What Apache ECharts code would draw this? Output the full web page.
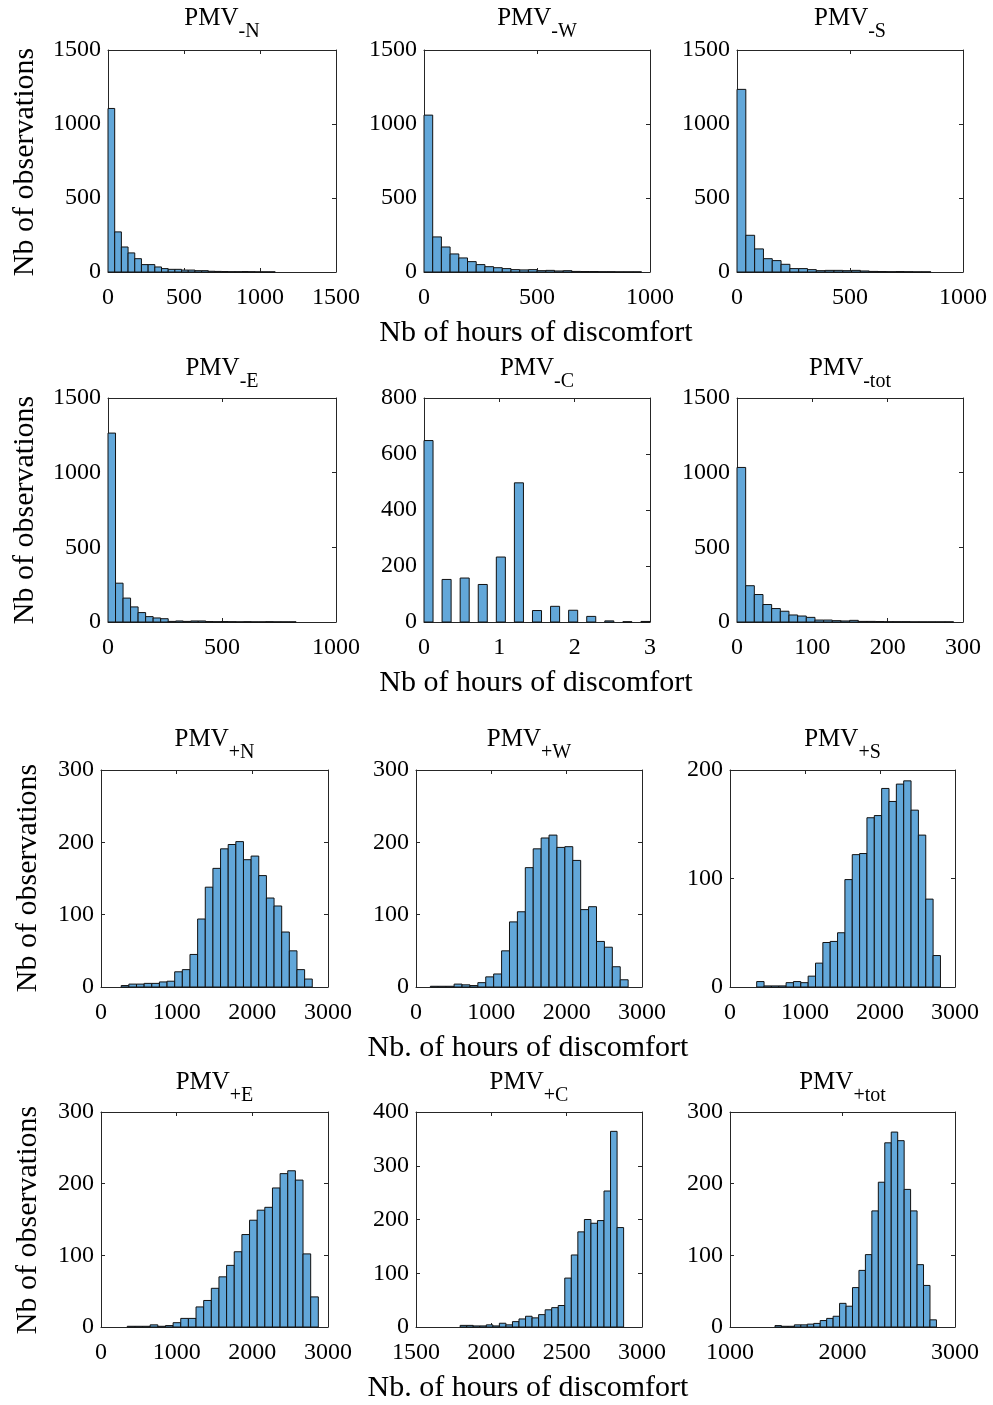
<!DOCTYPE html>
<html>
<head>
<meta charset="utf-8">
<script src="https://cdn.jsdelivr.net/npm/echarts@6/dist/echarts.min.js"></script>
<style>
html,body{margin:0;padding:0;background:#fff;}
#chart{width:993px;height:1405px;}
</style>
</head>
<body>
<div id="chart"></div>
<script>
// ---------- DATA ----------
const panelSubs = ['-N', '-W', '-S', '-E', '-C', '-tot', '+N', '+W', '+S', '+E', '+C', '+tot'];

const countsNegN = [1105, 271, 169, 129, 90, 50, 50, 34, 23, 18, 18, 13, 13, 9, 9, 5, 4, 3, 2, 2, 3, 2, 1, 1, 1];
const countsNegW = [1060, 237, 169, 122, 95, 70, 50, 36, 29, 23, 16, 14, 16, 9, 11, 7, 9, 4, 3, 3, 2, 2, 1, 1, 1];
const countsNegS = [1234, 248, 156, 90, 77, 52, 23, 23, 16, 9, 11, 11, 9, 11, 7, 4, 3, 2, 3, 2, 1, 1];
const countsNegE = [1265, 260, 160, 101, 63, 36, 27, 22, 4, 7, 4, 7, 7, 3, 2, 3, 2, 1, 2, 1, 1, 2, 1, 1, 1];
const countsNegC = [648, 0, 152, 0, 157, 0, 134, 0, 232, 0, 497, 0, 41, 0, 56, 0, 42, 0, 20, 0, 4, 0, 1, 0, 2];
const countsNegTot = [1035, 243, 184, 117, 90, 72, 47, 40, 31, 13, 13, 9, 7, 11, 4, 4, 3, 2, 2, 2, 1, 1, 1, 1, 1];
const countsPosN = [2, 4, 4, 5, 5, 7, 8, 21, 24, 45, 94, 138, 164, 191, 197, 201, 176, 181, 154, 123, 112, 76, 50, 24, 11];
const countsPosW = [1, 1, 1, 4, 3, 2, 6, 14, 18, 50, 90, 104, 165, 191, 206, 210, 193, 194, 175, 107, 111, 63, 55, 28, 10];
const countsPosS = [5, 1, 1, 1, 4, 5, 4, 10, 22, 41, 42, 50, 99, 122, 123, 156, 158, 183, 171, 187, 190, 163, 140, 81, 29];
const countsPosE = [1, 1, 1, 3, 1, 2, 6, 12, 12, 28, 37, 54, 70, 86, 105, 129, 149, 163, 167, 194, 214, 218, 205, 102, 42];
const countsPosC = [3, 3, 2, 2, 4, 2, 7, 4, 10, 15, 20, 17, 23, 32, 36, 40, 91, 134, 177, 200, 193, 198, 253, 364, 185];
const countsPosTot = [2, 1, 1, 3, 3, 4, 5, 9, 12, 15, 33, 29, 55, 79, 101, 162, 202, 257, 272, 260, 192, 162, 87, 58, 10];

const binStart = [0, 0, 0, 0, 0, 0, 267, 191, 356, 347, 1793, 1400];
const binWidth = [44, 38.5, 39, 33, 0.12, 11.5, 101, 105, 98, 101, 43.4, 57.4];

const xMin = [0, 0, 0, 0, 0, 0, 0, 0, 0, 0, 1500, 1000];
const xMax = [1500, 1000, 1000, 1000, 3, 300, 3000, 3000, 3000, 3000, 3000, 3000];
const xStep = [500, 500, 500, 500, 1, 100, 1000, 1000, 1000, 1000, 500, 1000];
const yMax = [1500, 1500, 1500, 1500, 800, 1500, 300, 300, 200, 300, 400, 300];
const yStep = [500, 500, 500, 500, 200, 500, 100, 100, 100, 100, 100, 100];

const xTitleTop = 'Nb of hours of discomfort';
const xTitleBottom = 'Nb. of hours of discomfort';
const yTitle = 'Nb of observations';

const allCounts = [countsNegN, countsNegW, countsNegS, countsNegE, countsNegC, countsNegTot,
                   countsPosN, countsPosW, countsPosS, countsPosE, countsPosC, countsPosTot];

// ---------- LAYOUT ----------
const FONT = '"Liberation Serif", "Times New Roman", serif';
const AX = '#262626';
const grids = [
  {left: 108, top: 50, width: 228, height: 222},
  {left: 424, top: 50, width: 226, height: 222},
  {left: 737, top: 50, width: 226, height: 222},
  {left: 108, top: 398, width: 228, height: 224},
  {left: 424, top: 398, width: 226, height: 224},
  {left: 737, top: 398, width: 226, height: 224},
  {left: 101, top: 770, width: 227, height: 217},
  {left: 416, top: 770, width: 226, height: 217},
  {left: 730, top: 770, width: 225, height: 217},
  {left: 101, top: 1112, width: 227, height: 215},
  {left: 416, top: 1112, width: 226, height: 215},
  {left: 730, top: 1112, width: 225, height: 215}
];

const plain = v => String(v);
const xAxes = [], yAxes = [], series = [], titles = [];
grids.forEach((g, i) => {
  const common = {
    gridIndex: i, type: 'value',
    axisLine: {show: true, onZero: false, lineStyle: {color: AX, width: 1}},
    axisTick: {show: true, inside: true, length: 4, lineStyle: {color: AX}},
    splitLine: {show: false}
  };
  xAxes.push(Object.assign({}, common, {
    position: 'bottom', min: xMin[i], max: xMax[i], interval: xStep[i],
    axisLabel: {show: true, color: '#000', fontFamily: FONT, fontSize: 24, margin: 14,
                showMinLabel: true, showMaxLabel: true, formatter: plain}
  }));
  xAxes.push(Object.assign({}, common, {
    position: 'top', min: xMin[i], max: xMax[i], interval: xStep[i],
    axisLabel: {show: false}
  }));
  yAxes.push(Object.assign({}, common, {
    position: 'left', min: 0, max: yMax[i], interval: yStep[i],
    axisLabel: {show: true, color: '#000', fontFamily: FONT, fontSize: 24, margin: 7,
                showMinLabel: true, showMaxLabel: true, formatter: plain}
  }));
  yAxes.push(Object.assign({}, common, {
    position: 'right', min: 0, max: yMax[i], interval: yStep[i],
    axisLabel: {show: false}
  }));

  const data = [];
  allCounts[i].forEach((c, k) => {
    if (c > 0) {
      const x0 = binStart[i] + k * binWidth[i];
      data.push([x0, x0 + binWidth[i], c]);
    }
  });
  series.push({
    type: 'custom', xAxisIndex: 2 * i, yAxisIndex: 2 * i,
    encode: {x: [0, 1], y: 2},
    data: data,
    renderItem: function (params, api) {
      const p0 = api.coord([api.value(0), 0]);
      const p1 = api.coord([api.value(1), api.value(2)]);
      return {
        type: 'rect',
        shape: {x: p0[0], y: p1[1], width: p1[0] - p0[0], height: p0[1] - p1[1]},
        style: {fill: '#62a7d9', stroke: '#111', lineWidth: 1}
      };
    },
    silent: true, animation: false
  });

  const rowTitleY = [6, 356, 727, 1070][Math.floor(i / 3)];
  titles.push({
    text: '{a|PMV}{b|' + panelSubs[i] + '}',
    left: g.left + g.width / 2,
    top: rowTitleY,
    textAlign: 'center',
    padding: 0,
    textStyle: {
      fontWeight: 'normal',
      rich: {
        a: {fontFamily: FONT, fontWeight: 'normal', fontSize: 25, lineHeight: 26, verticalAlign: 'top', color: '#000'},
        b: {fontFamily: FONT, fontWeight: 'normal', fontSize: 20, lineHeight: 36, verticalAlign: 'bottom', color: '#000'}
      }
    }
  });
});

const textStyle = {fill: '#000', font: '30px ' + FONT, align: 'center', verticalAlign: 'middle'};
const graphics = [
  {type: 'text', x: 536, y: 333, style: Object.assign({text: xTitleTop}, textStyle)},
  {type: 'text', x: 536, y: 683, style: Object.assign({text: xTitleTop}, textStyle)},
  {type: 'text', x: 528, y: 1048, style: Object.assign({text: xTitleBottom}, textStyle)},
  {type: 'text', x: 528, y: 1388, style: Object.assign({text: xTitleBottom}, textStyle)},
  {type: 'text', x: 25, y: 162, rotation: Math.PI / 2, style: Object.assign({text: yTitle}, textStyle)},
  {type: 'text', x: 25, y: 510, rotation: Math.PI / 2, style: Object.assign({text: yTitle}, textStyle)},
  {type: 'text', x: 28, y: 878, rotation: Math.PI / 2, style: Object.assign({text: yTitle}, textStyle)},
  {type: 'text', x: 28, y: 1220, rotation: Math.PI / 2, style: Object.assign({text: yTitle}, textStyle)}
];

const chart = echarts.init(document.getElementById('chart'), null, {renderer: 'canvas'});
chart.setOption({
  backgroundColor: '#fff',
  animation: false,
  title: titles,
  grid: grids,
  xAxis: xAxes,
  yAxis: yAxes,
  series: series,
  graphic: graphics
});
</script>
</body>
</html>
